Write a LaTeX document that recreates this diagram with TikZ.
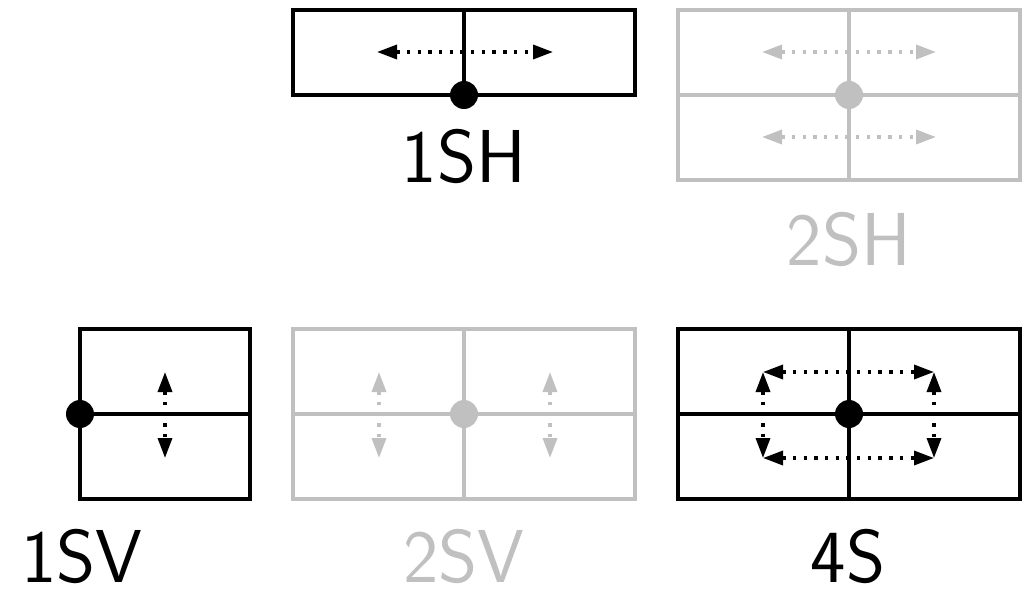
\documentclass[tikz,border=0pt]{standalone}
\usetikzlibrary{arrows.meta}
\definecolor{lite}{RGB}{192,192,192}
\tikzset{
  frame/.style={line width=3.2pt},
  dotarrow/.style={line width=3.4pt, dash pattern=on 3.4pt off 7.3pt,
    {Triangle[length=20pt,width=14pt]}-{Triangle[length=20pt,width=14pt]}},
  pivot/.style={circle, fill, inner sep=0pt, minimum size=28pt},
  lbl/.style={font=\sffamily\fontsize{75}{75}\selectfont, anchor=base, inner sep=0pt},
}
\begin{document}
\begin{tikzpicture}[x=1pt,y=-1pt]
\useasboundingbox (0,0) rectangle (1028,589);
% ---------- 1SH ----------
\begin{scope}
\draw[frame] (293,10) rectangle (635,95);
\draw[frame] (464,10) -- (464,95);
\coordinate (h1a) at (377,52); \coordinate (h1b) at (553,52);
\draw[dotarrow] (h1a) -- (h1b);
\node[pivot] (p1) at (464,95) {};
\node[lbl] (l1) at (464,182) {1SH};
\end{scope}
% ---------- 2SH ----------
\begin{scope}[color=lite]
\draw[frame] (678,10) rectangle (1020,180);
\draw[frame] (849,10) -- (849,180);
\draw[frame] (678,95) -- (1020,95);
\coordinate (h2a) at (762,52); \coordinate (h2b) at (936,52);
\coordinate (h2c) at (762,137); \coordinate (h2d) at (936,137);
\draw[dotarrow] (h2a) -- (h2b);
\draw[dotarrow] (h2c) -- (h2d);
\node[pivot, fill=lite] (p2) at (849,95) {};
\node[lbl, text=lite] (l2) at (849,265) {2SH};
\end{scope}
% ---------- 1SV ----------
\begin{scope}
\draw[frame] (80,329) rectangle (250,499);
\draw[frame] (80,414) -- (250,414);
\coordinate (v1a) at (165,372); \coordinate (v1b) at (165,458);
\draw[dotarrow] (v1a) -- (v1b);
\node[pivot] (p3) at (80,414) {};
\node[lbl] (l3) at (82,582) {1SV};
\end{scope}
% ---------- 2SV ----------
\begin{scope}[color=lite]
\draw[frame] (293,329) rectangle (635,499);
\draw[frame] (464,329) -- (464,499);
\draw[frame] (293,414) -- (635,414);
\coordinate (v2a) at (379,372); \coordinate (v2b) at (379,458);
\coordinate (v2c) at (550,372); \coordinate (v2d) at (550,458);
\draw[dotarrow] (v2a) -- (v2b);
\draw[dotarrow] (v2c) -- (v2d);
\node[pivot, fill=lite] (p4) at (464,414) {};
\node[lbl, text=lite] (l4) at (464,582) {2SV};
\end{scope}
% ---------- 4S ----------
\begin{scope}
\draw[frame] (678,329) rectangle (1020,499);
\draw[frame] (849,329) -- (849,499);
\draw[frame] (678,414) -- (1020,414);
\coordinate (s1) at (763,372); \coordinate (s2) at (934,372);
\coordinate (s3) at (763,458); \coordinate (s4) at (934,458);
\draw[dotarrow] (s1) -- (s2);
\draw[dotarrow] (s3) -- (s4);
\draw[dotarrow] (s1) -- (s3);
\draw[dotarrow] (s2) -- (s4);
\node[pivot] (p5) at (849,414) {};
\node[lbl] (l5) at (848,582) {4S};
\end{scope}
\end{tikzpicture}
\end{document}
